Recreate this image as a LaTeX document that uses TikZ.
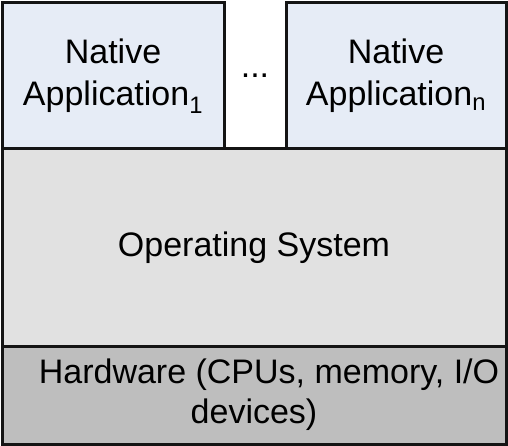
\documentclass[tikz,border=0pt]{standalone}
\usepackage{fontspec}
\setmainfont{Liberation Sans}
\definecolor{appfill}{HTML}{E6ECF6}
\definecolor{osfill}{HTML}{E1E1E1}
\definecolor{hwfill}{HTML}{BEBEBE}
\definecolor{edge}{HTML}{141414}
\begin{document}
\begin{tikzpicture}[x=1pt,y=-1pt,
  layer/.style={draw=edge,line width=3pt,inner sep=0pt,outer sep=0pt,align=center,
    font=\fontsize{34}{42}\selectfont,text=black},
  lbl/.style={inner sep=0pt,font=\fontsize{34}{42}\selectfont,text=black}]
\useasboundingbox (0,0) rectangle (508,446);
\node[layer,fill=appfill,minimum width=222pt,minimum height=146pt] (app1) at (113,76)
  {Native\\Application\textsubscript{1}};
\node[layer,fill=appfill,minimum width=220pt,minimum height=146pt] (appn) at (396,76)
  {Native\\Application\textsubscript{n}};
\node[lbl] (dots) at (255,76) {...};
\node[layer,fill=osfill,minimum width=504pt,minimum height=197pt] (os) at (254,247.5)
  {Operating System};
\node[layer,fill=hwfill,minimum width=504pt,minimum height=98pt,font=\fontsize{34}{40}\selectfont] (hw) at (254,395)
  {\hspace*{30pt}Hardware (CPUs, memory, I/O\\devices)};
\end{tikzpicture}
\end{document}
